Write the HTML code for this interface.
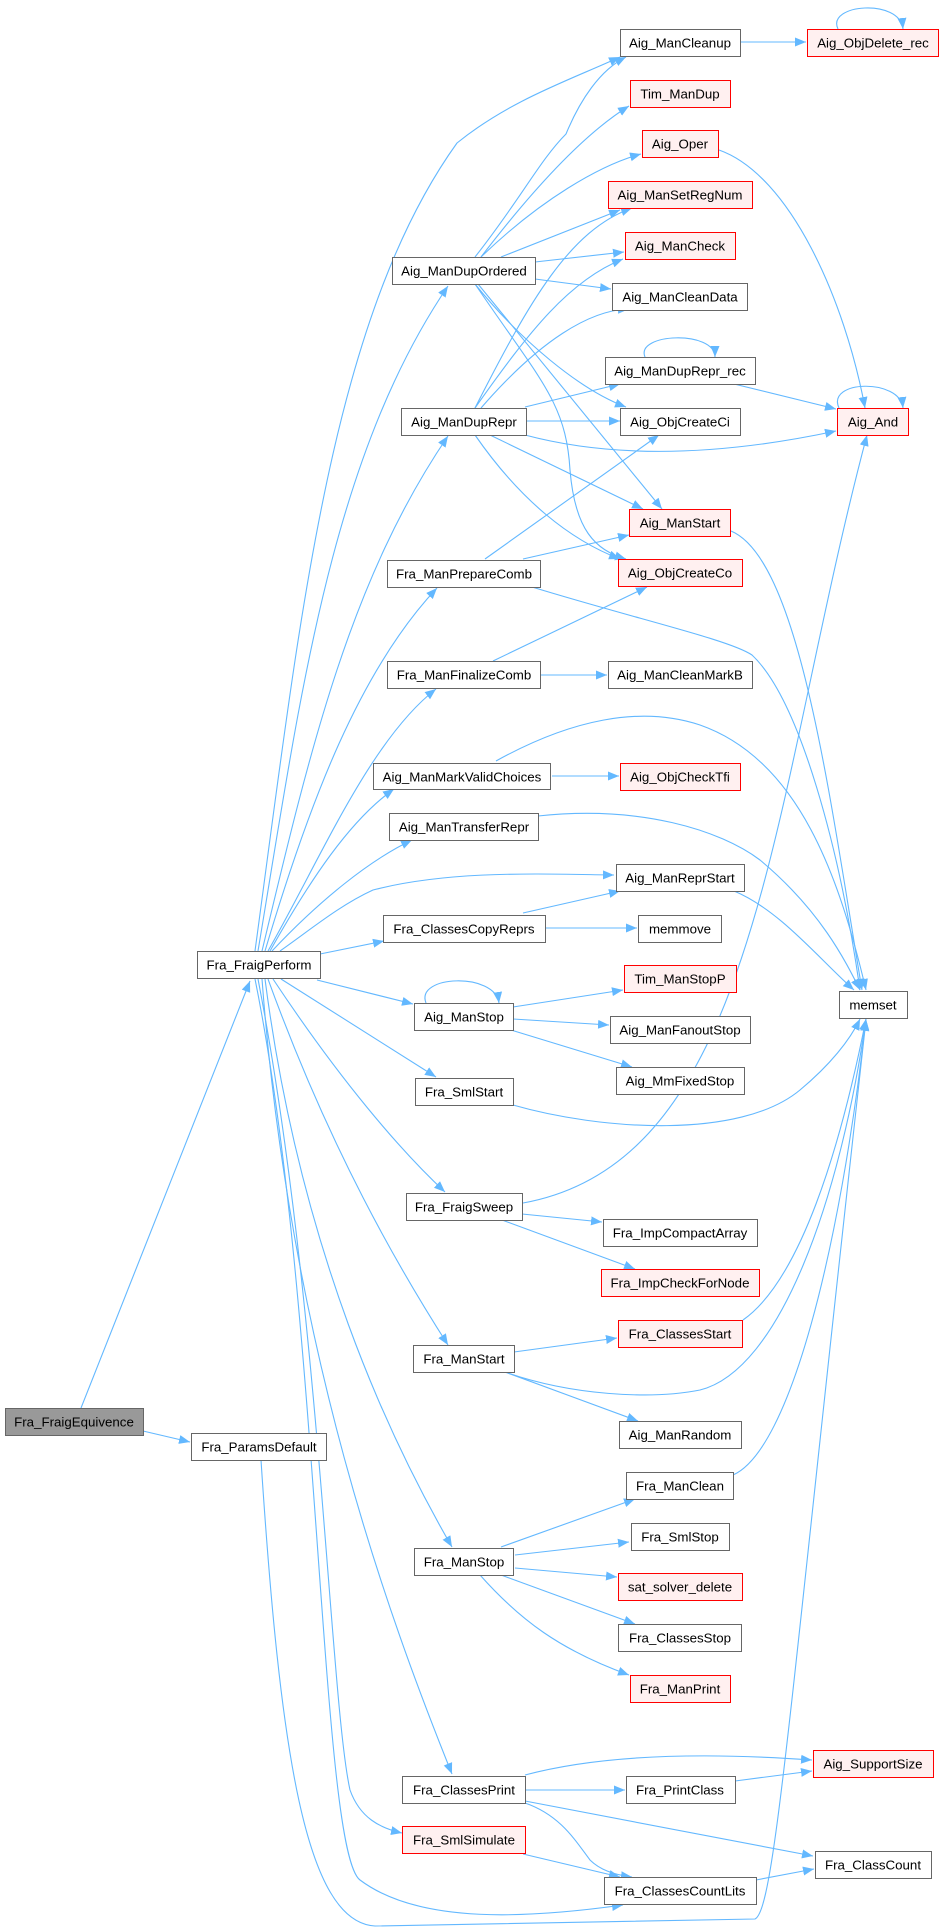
<!DOCTYPE html>
<html><head><meta charset="utf-8"><style>
html,body{margin:0;padding:0;background:#fff}
svg{display:block}
text{font-family:"Liberation Sans",Arial,sans-serif;font-size:13.3px;text-anchor:middle;dominant-baseline:central;fill:#000}
.e{fill:none;stroke:#63b8ff;stroke-width:1.1}
.n rect{fill:#fff;stroke:#666;stroke-width:1}
.r rect{fill:#fff0f0;stroke:#f00;stroke-width:1}
</style></head><body>
<svg width="939" height="1932" viewBox="0 0 939 1932" xmlns="http://www.w3.org/2000/svg">
<defs><marker id="a" markerWidth="12" markerHeight="10" refX="11" refY="5" orient="auto" markerUnits="userSpaceOnUse"><path d="M0,0.5 L11,5 L0,9.5 z" fill="#63b8ff"/></marker></defs>
<g class="e" marker-end="url(#a)">
<path d="M81,1408 L250,981"/>
<path d="M143,1431 L190,1442"/>
<path d="M261,1460 C280,1750 305,1922 375,1926 L755,1919 C775,1910 790,1700 866,1020"/>
<path d="M255,951 C300,620 330,320 457,143 C510,100 570,80 620,57"/>
<path d="M258,951 C300,700 330,460 448,286"/>
<path d="M262,951 C310,750 350,580 448,436"/>
<path d="M265,951 C310,800 360,670 437,588"/>
<path d="M268,951 C320,860 370,740 436,689"/>
<path d="M270,951 C310,880 350,820 394,789"/>
<path d="M272,951 C320,900 370,860 412,840"/>
<path d="M280,951 C310,930 340,905 373,890 C450,870 540,874 614,875"/>
<path d="M320,954 L384,941"/>
<path d="M317,980 L413,1004"/>
<path d="M281,979 L436,1077"/>
<path d="M273,979 C340,1080 400,1150 445,1192"/>
<path d="M268,979 C330,1150 400,1270 448,1345"/>
<path d="M265,979 C300,1250 390,1440 452,1547"/>
<path d="M262,979 C290,1350 390,1620 452,1774"/>
<path d="M258,979 C320,1300 330,1700 350,1790 C360,1818 380,1828 402,1833"/>
<path d="M255,979 C320,1300 320,1850 360,1880 C420,1925 530,1918 623,1905"/>
<path d="M740,42 L806,42"/>
<path d="M838,29 C826,4 900,-2 903,29"/>
<path d="M475,257 C520,200 540,160 566,134 C580,100 600,70 626,57"/>
<path d="M481,257 C540,180 590,130 629,106"/>
<path d="M481,257 C540,200 600,165 641,154"/>
<path d="M501,257 L620,210"/>
<path d="M535,262 L624,252"/>
<path d="M535,279 L611,289"/>
<path d="M475,284 C520,340 580,390 626,407"/>
<path d="M478,284 L662,509"/>
<path d="M475,284 C540,380 566,402 570,470 C575,530 595,550 626,559"/>
<path d="M475,408 C530,300 570,230 632,208"/>
<path d="M475,408 C530,330 570,280 623,259"/>
<path d="M481,408 C540,340 590,310 629,309"/>
<path d="M525,407 L620,384"/>
<path d="M525,421 L620,421"/>
<path d="M525,435 C600,455 700,460 836,431"/>
<path d="M490,435 L643,509"/>
<path d="M475,435 C520,500 570,540 620,559"/>
<path d="M645,357 C635,333 715,330 715,357"/>
<path d="M734,384 L836,409"/>
<path d="M839,408 C826,380 900,378 903,408"/>
<path d="M719,150 C790,175 845,300 865,408"/>
<path d="M731,531 C800,560 830,800 862,990"/>
<path d="M523,1203 C760,1160 770,800 867,435"/>
<path d="M485,559 L659,435"/>
<path d="M523,559 L629,535"/>
<path d="M532,587 C640,620 730,640 752,655 C800,700 840,850 860,990"/>
<path d="M493,661 L647,587"/>
<path d="M540,675 L607,675"/>
<path d="M552,776 L619,776"/>
<path d="M496,761 C570,720 640,705 700,725 C800,760 840,880 866,990"/>
<path d="M538,816 C640,805 720,830 760,860 C820,910 845,960 860,990"/>
<path d="M734,891 C780,910 820,960 854,990"/>
<path d="M523,913 L620,891"/>
<path d="M545,928 L637,928"/>
<path d="M426,1003 C415,975 495,972 499,1003"/>
<path d="M513,1007 L623,990"/>
<path d="M513,1019 L609,1025"/>
<path d="M511,1030 L632,1067"/>
<path d="M513,1105 C600,1130 740,1140 800,1090 C830,1065 850,1040 860,1019"/>
<path d="M522,1214 L602,1222"/>
<path d="M502,1220 L635,1269"/>
<path d="M743,1320 C800,1280 840,1150 866,1019"/>
<path d="M514,1352 L617,1338"/>
<path d="M505,1372 C570,1395 650,1400 700,1390 C780,1370 840,1200 866,1019"/>
<path d="M505,1372 L638,1421"/>
<path d="M733,1475 C790,1450 840,1250 866,1019"/>
<path d="M501,1547 L635,1499"/>
<path d="M515,1555 L629,1542"/>
<path d="M515,1568 L617,1577"/>
<path d="M501,1575 L635,1624"/>
<path d="M480,1575 C520,1620 560,1650 629,1675"/>
<path d="M525,1775 C600,1755 700,1752 812,1760"/>
<path d="M525,1790 L625,1790"/>
<path d="M525,1801 L813,1856"/>
<path d="M525,1803 C560,1815 575,1840 590,1860 C600,1870 615,1875 632,1877"/>
<path d="M735,1781 L812,1771"/>
<path d="M523,1854 L620,1877"/>
<path d="M756,1880 L814,1869"/>
</g>
<g class="n"><rect x="620.5" y="29.5" width="120" height="27"/><text x="680" y="43">Aig_ManCleanup</text></g>
<g class="r"><rect x="807.5" y="29.5" width="131" height="27"/><text x="873" y="43">Aig_ObjDelete_rec</text></g>
<g class="r"><rect x="630.5" y="80.5" width="100" height="27"/><text x="680" y="94">Tim_ManDup</text></g>
<g class="r"><rect x="642.5" y="130.5" width="76" height="27"/><text x="680" y="144">Aig_Oper</text></g>
<g class="r"><rect x="608.5" y="181.5" width="144" height="27"/><text x="680" y="195">Aig_ManSetRegNum</text></g>
<g class="r"><rect x="625.5" y="232.5" width="110" height="27"/><text x="680" y="246">Aig_ManCheck</text></g>
<g class="n"><rect x="612.5" y="283.5" width="135" height="27"/><text x="680" y="297">Aig_ManCleanData</text></g>
<g class="n"><rect x="605.5" y="357.5" width="150" height="27"/><text x="680" y="371">Aig_ManDupRepr_rec</text></g>
<g class="n"><rect x="620.5" y="408.5" width="120" height="27"/><text x="680" y="422">Aig_ObjCreateCi</text></g>
<g class="r"><rect x="837.5" y="408.5" width="71" height="27"/><text x="873" y="422">Aig_And</text></g>
<g class="r"><rect x="629.5" y="509.5" width="101" height="27"/><text x="680" y="523">Aig_ManStart</text></g>
<g class="r"><rect x="618.5" y="559.5" width="124" height="27"/><text x="680" y="573">Aig_ObjCreateCo</text></g>
<g class="n"><rect x="608.5" y="661.5" width="144" height="27"/><text x="680" y="675">Aig_ManCleanMarkB</text></g>
<g class="n"><rect x="392.5" y="257.5" width="143" height="27"/><text x="464" y="271">Aig_ManDupOrdered</text></g>
<g class="n"><rect x="401.5" y="408.5" width="125" height="27"/><text x="464" y="422">Aig_ManDupRepr</text></g>
<g class="n"><rect x="387.5" y="560.5" width="153" height="27"/><text x="464" y="574">Fra_ManPrepareComb</text></g>
<g class="n"><rect x="387.5" y="661.5" width="153" height="27"/><text x="464" y="675">Fra_ManFinalizeComb</text></g>
<g class="n"><rect x="373.5" y="763.5" width="177" height="26"/><text x="462" y="777">Aig_ManMarkValidChoices</text></g>
<g class="r"><rect x="620.5" y="763.5" width="120" height="27"/><text x="680" y="777">Aig_ObjCheckTfi</text></g>
<g class="n"><rect x="389.5" y="813.5" width="149" height="27"/><text x="464" y="827">Aig_ManTransferRepr</text></g>
<g class="n"><rect x="616.5" y="864.5" width="128" height="27"/><text x="680" y="878">Aig_ManReprStart</text></g>
<g class="n"><rect x="383.5" y="915.5" width="162" height="27"/><text x="464" y="929">Fra_ClassesCopyReprs</text></g>
<g class="n"><rect x="638.5" y="915.5" width="83" height="27"/><text x="680" y="929">memmove</text></g>
<g class="n"><rect x="197.5" y="951.5" width="123" height="27"/><text x="259" y="965">Fra_FraigPerform</text></g>
<g class="r"><rect x="624.5" y="965.5" width="112" height="27"/><text x="680" y="979">Tim_ManStopP</text></g>
<g class="n"><rect x="839.5" y="991.5" width="68" height="27"/><text x="873" y="1005">memset</text></g>
<g class="n"><rect x="414.5" y="1003.5" width="99" height="27"/><text x="464" y="1017">Aig_ManStop</text></g>
<g class="n"><rect x="610.5" y="1016.5" width="140" height="27"/><text x="680" y="1030">Aig_ManFanoutStop</text></g>
<g class="n"><rect x="616.5" y="1067.5" width="128" height="27"/><text x="680" y="1081">Aig_MmFixedStop</text></g>
<g class="n"><rect x="415.5" y="1078.5" width="98" height="27"/><text x="464" y="1092">Fra_SmlStart</text></g>
<g class="n"><rect x="406.5" y="1193.5" width="116" height="27"/><text x="464" y="1207">Fra_FraigSweep</text></g>
<g class="n"><rect x="603.5" y="1219.5" width="154" height="27"/><text x="680" y="1233">Fra_ImpCompactArray</text></g>
<g class="r"><rect x="601.5" y="1269.5" width="158" height="27"/><text x="680" y="1283">Fra_ImpCheckForNode</text></g>
<g class="r"><rect x="618.5" y="1320.5" width="124" height="27"/><text x="680" y="1334">Fra_ClassesStart</text></g>
<g class="n"><rect x="413.5" y="1345.5" width="101" height="27"/><text x="464" y="1359">Fra_ManStart</text></g>
<g><rect x="5.5" y="1408.5" width="138" height="27" fill="#999" stroke="#666"/><text x="74" y="1422">Fra_FraigEquivence</text></g>
<g class="n"><rect x="191.5" y="1433.5" width="135" height="27"/><text x="259" y="1447">Fra_ParamsDefault</text></g>
<g class="n"><rect x="619.5" y="1421.5" width="122" height="27"/><text x="680" y="1435">Aig_ManRandom</text></g>
<g class="n"><rect x="626.5" y="1472.5" width="107" height="27"/><text x="680" y="1486">Fra_ManClean</text></g>
<g class="n"><rect x="631.5" y="1523.5" width="98" height="27"/><text x="680" y="1537">Fra_SmlStop</text></g>
<g class="n"><rect x="414.5" y="1548.5" width="99" height="27"/><text x="464" y="1562">Fra_ManStop</text></g>
<g class="r"><rect x="618.5" y="1573.5" width="124" height="27"/><text x="680" y="1587">sat_solver_delete</text></g>
<g class="n"><rect x="618.5" y="1624.5" width="123" height="27"/><text x="680" y="1638">Fra_ClassesStop</text></g>
<g class="r"><rect x="630.5" y="1675.5" width="100" height="27"/><text x="680" y="1689">Fra_ManPrint</text></g>
<g class="r"><rect x="813.5" y="1750.5" width="120" height="27"/><text x="873" y="1764">Aig_SupportSize</text></g>
<g class="n"><rect x="402.5" y="1776.5" width="123" height="27"/><text x="464" y="1790">Fra_ClassesPrint</text></g>
<g class="n"><rect x="626.5" y="1776.5" width="109" height="27"/><text x="680" y="1790">Fra_PrintClass</text></g>
<g class="r"><rect x="402.5" y="1826.5" width="123" height="27"/><text x="464" y="1840">Fra_SmlSimulate</text></g>
<g class="n"><rect x="815.5" y="1851.5" width="116" height="27"/><text x="873" y="1865">Fra_ClassCount</text></g>
<g class="n"><rect x="604.5" y="1877.5" width="152" height="27"/><text x="680" y="1891">Fra_ClassesCountLits</text></g>
</svg>
</body></html>
